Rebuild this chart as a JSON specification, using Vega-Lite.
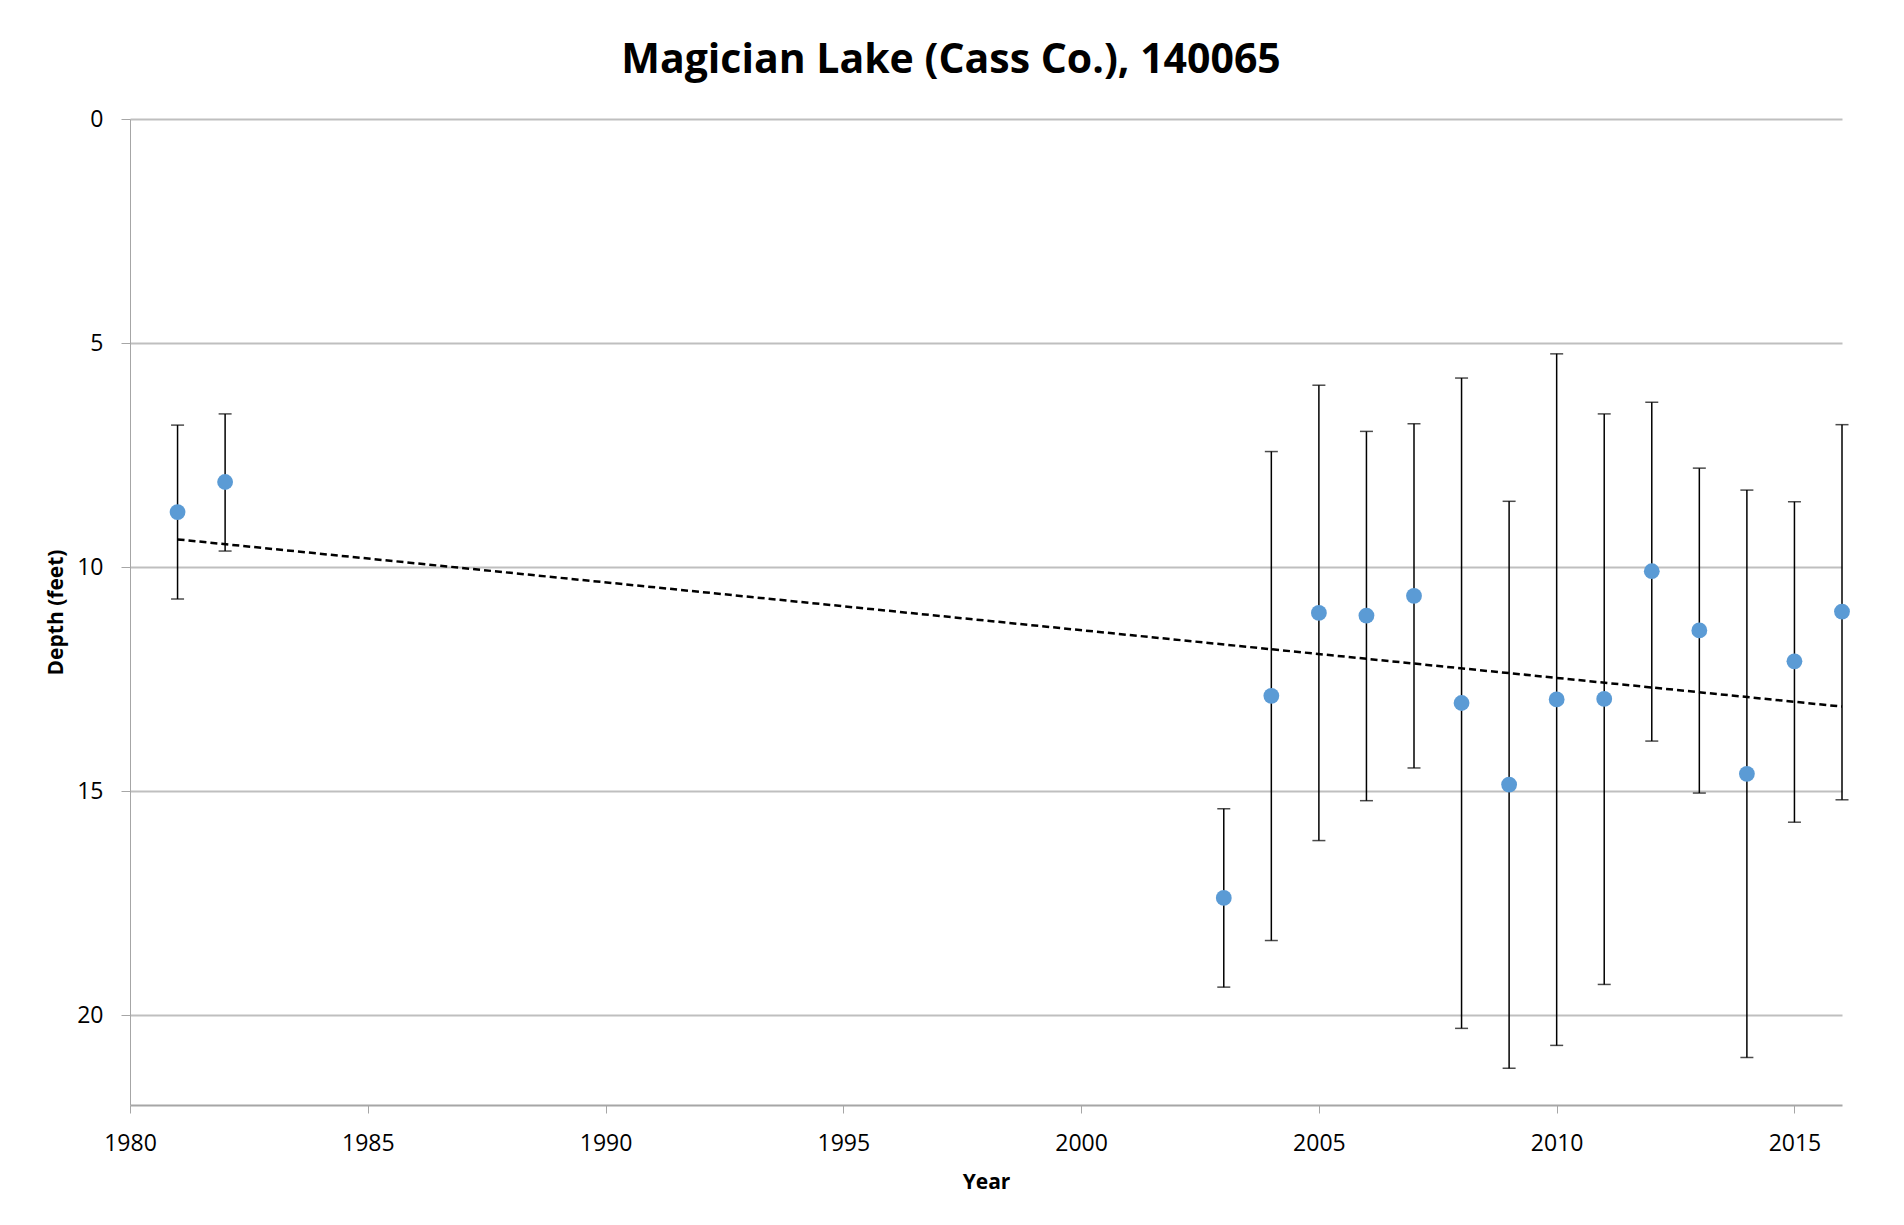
{
  "$schema": "https://vega.github.io/schema/vega-lite/v6.json",
  "autosize": {"type": "none"},
  "width": 1712,
  "height": 986,
  "padding": {"left": 130, "top": 119, "right": 62, "bottom": 120},
  "background": "white",
  "config": {"view": {"stroke": null}},
  "title": {
    "text": "Magician Lake (Cass Co.), 140065",
    "font": "Open Sans",
    "fontSize": 41,
    "fontWeight": "bold",
    "color": "#000000",
    "anchor": "middle",
    "dx": -35,
    "offset": 26
  },
  "datasets": {
    "obs": [
      {"year": 1981, "depth": 8.77, "lo": 6.83, "hi": 10.71},
      {"year": 1982, "depth": 8.10, "lo": 6.58, "hi": 9.64},
      {"year": 2003, "depth": 17.38, "lo": 15.39, "hi": 19.37},
      {"year": 2004, "depth": 12.87, "lo": 7.42, "hi": 18.33},
      {"year": 2005, "depth": 11.02, "lo": 5.94, "hi": 16.10},
      {"year": 2006, "depth": 11.08, "lo": 6.97, "hi": 15.21},
      {"year": 2007, "depth": 10.64, "lo": 6.80, "hi": 14.48},
      {"year": 2008, "depth": 13.03, "lo": 5.78, "hi": 20.29},
      {"year": 2009, "depth": 14.85, "lo": 8.53, "hi": 21.18},
      {"year": 2010, "depth": 12.95, "lo": 5.24, "hi": 20.67},
      {"year": 2011, "depth": 12.94, "lo": 6.58, "hi": 19.31},
      {"year": 2012, "depth": 10.09, "lo": 6.32, "hi": 13.88},
      {"year": 2013, "depth": 11.41, "lo": 7.79, "hi": 15.04},
      {"year": 2014, "depth": 14.61, "lo": 8.28, "hi": 20.94},
      {"year": 2015, "depth": 12.10, "lo": 8.54, "hi": 15.69},
      {"year": 2016, "depth": 10.99, "lo": 6.82, "hi": 15.19}
    ],
    "trend": [
      {"year": 1981, "depth": 9.38},
      {"year": 2016, "depth": 13.11}
    ]
  },
  "layer": [
    {
      "data": {"name": "obs"},
      "mark": {"type": "rule", "color": "#000000", "strokeWidth": 1.5},
      "encoding": {
        "x": {
          "field": "year", "type": "quantitative",
          "scale": {"domain": [1980, 2016], "nice": false, "zero": false},
          "axis": {
            "title": "Year",
            "values": [1980, 1985, 1990, 1995, 2000, 2005, 2010, 2015],
            "format": "d",
            "grid": false,
            "labelFlush": false,
            "domainColor": "#a6a6a6",
            "domainWidth": 2,
            "tickColor": "#a6a6a6",
            "tickWidth": 1,
            "tickSize": 8,
            "labelPadding": 19,
            "labelFont": "Open Sans",
            "labelFontSize": 23,
            "labelColor": "#000000",
            "titleFont": "Open Sans",
            "titleFontSize": 21,
            "titleFontWeight": "bold",
            "titleColor": "#000000",
            "titlePadding": 16
          }
        },
        "y": {
          "field": "lo", "type": "quantitative",
          "scale": {"domain": [0, 22], "reverse": true, "nice": false},
          "axis": {
            "title": "Depth (feet)",
            "values": [0, 5, 10, 15, 20],
            "grid": true,
            "gridColor": "#bfbfbf",
            "gridWidth": 2,
            "domainColor": "#a6a6a6",
            "domainWidth": 1,
            "tickColor": "#a6a6a6",
            "tickWidth": 1,
            "tickSize": 9,
            "labelPadding": 18,
            "labelFont": "Open Sans",
            "labelFontSize": 23,
            "labelColor": "#000000",
            "titleFont": "Open Sans",
            "titleFontSize": 21,
            "titleFontWeight": "bold",
            "titleColor": "#000000",
            "titlePadding": 10
          }
        },
        "y2": {"field": "hi"}
      }
    },
    {
      "data": {"name": "obs"},
      "mark": {"type": "tick", "orient": "horizontal", "color": "#000000", "size": 13, "thickness": 1.5},
      "encoding": {
        "x": {"field": "year", "type": "quantitative"},
        "y": {"field": "lo", "type": "quantitative"}
      }
    },
    {
      "data": {"name": "obs"},
      "mark": {"type": "tick", "orient": "horizontal", "color": "#000000", "size": 13, "thickness": 1.5},
      "encoding": {
        "x": {"field": "year", "type": "quantitative"},
        "y": {"field": "hi", "type": "quantitative"}
      }
    },
    {
      "data": {"name": "trend"},
      "mark": {"type": "line", "color": "#000000", "strokeWidth": 2.5, "strokeDash": [7, 4]},
      "encoding": {
        "x": {"field": "year", "type": "quantitative"},
        "y": {"field": "depth", "type": "quantitative"}
      }
    },
    {
      "data": {"name": "obs"},
      "mark": {"type": "point", "shape": "circle", "filled": true, "color": "#5b9bd5", "opacity": 1, "size": 250},
      "encoding": {
        "x": {"field": "year", "type": "quantitative"},
        "y": {"field": "depth", "type": "quantitative"}
      }
    }
  ]
}
